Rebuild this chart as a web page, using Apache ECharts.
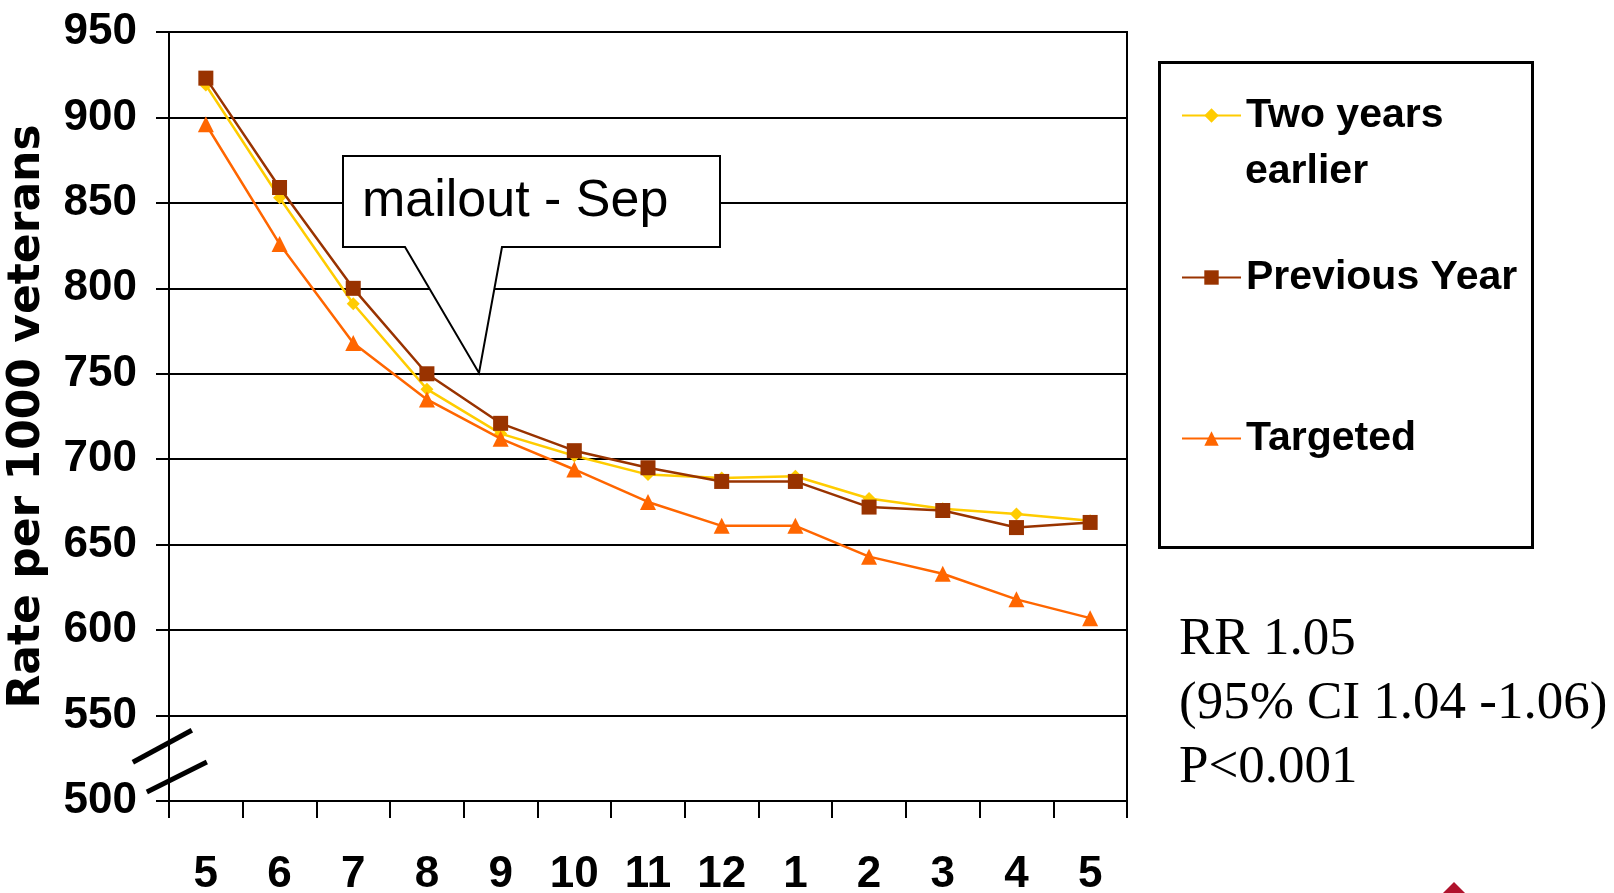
<!DOCTYPE html>
<html>
<head>
<meta charset="utf-8">
<script src="https://cdn.jsdelivr.net/npm/echarts@6/dist/echarts.min.js"></script>
<style>
html,body{margin:0;padding:0;background:#ffffff;}
#chart{width:1614px;height:893px;}
</style>
</head>
<body>
<div id="chart"></div>
<script>
// ---- data ----
const months = ['5', '6', '7', '8', '9', '10', '11', '12', '1', '2', '3', '4', '5'];
const twoYearsEarlier = [919, 853, 791, 741, 715, 702, 691, 689, 690, 677, 671, 668, 664];
const previousYear = [923, 859, 800, 750, 721, 705, 695, 687, 687, 672, 670, 660, 663];
const targeted = [896, 826, 768, 735, 712, 694, 675, 661, 661, 643, 633, 618, 607];
const seriesNames = ['Two years earlier', 'Previous Year', 'Targeted'];
const legendLabels = ['Two years', 'Previous Year', 'Targeted'];
const yAxisTitle = 'Rate per 1000 veterans';
const yMin = 500, yMax = 950, yStep = 50;
const calloutText = 'mailout - Sep';
const statsLines = ['RR 1.05', '(95% CI 1.04 -1.06)', 'P<0.001'];

// ---- style ----
const COL_YELLOW = '#FFCC00';
const COL_BROWN = '#993300';
const COL_ORANGE = '#FF6600';
const BOLD_FONT = "'Liberation Sans', Arial, sans-serif";
const LEGEND_FONT = "'Liberation Sans', Arial, sans-serif";
const LEGEND_SIZE = 41;

const chart = echarts.init(document.getElementById('chart'), null, {renderer: 'canvas'});

function legendFor(i, top) {
  return {
    data: [seriesNames[i]],
    orient: 'vertical',
    left: 1181,
    top: top,
    padding: 0,
    itemWidth: 59,
    itemHeight: 18,
    formatter: function () { return legendLabels[i]; },
    textStyle: {fontFamily: LEGEND_FONT, fontWeight: 'bold', fontSize: LEGEND_SIZE, color: '#000'},
    selectedMode: false
  };
}

const option = {
  animation: false,
  backgroundColor: '#ffffff',
  grid: {
    left: 169, right: 487, top: 32, bottom: 92,
    show: true, borderColor: '#000', borderWidth: 2, backgroundColor: 'transparent',
    containLabel: false, outerBoundsMode: 'none'
  },
  xAxis: {
    type: 'category',
    data: months,
    boundaryGap: true,
    axisLine: {show: true, lineStyle: {color: '#000', width: 2}},
    axisTick: {show: true, inside: false, length: 17, lineStyle: {color: '#000', width: 2}},
    axisLabel: {interval: 0, margin: 52, color: '#000', fontFamily: BOLD_FONT, fontWeight: 'bold', fontSize: 44},
    splitLine: {show: false}
  },
  yAxis: {
    type: 'value',
    min: yMin, max: yMax, interval: yStep,
    name: yAxisTitle,
    nameLocation: 'middle',
    nameRotate: 90,
    nameGap: 119,
    nameTextStyle: {fontFamily: "'DejaVu Sans', sans-serif", fontWeight: 'bold', fontSize: 44, color: '#000'},
    axisLine: {show: true, lineStyle: {color: '#000', width: 2}},
    axisTick: {show: true, inside: false, length: 13, lineStyle: {color: '#000', width: 2}},
    axisLabel: {margin: 32, color: '#000', fontFamily: BOLD_FONT, fontWeight: 'bold', fontSize: 44},
    splitLine: {show: true, lineStyle: {color: '#000', width: 2}}
  },
  legend: [legendFor(0, 95), legendFor(1, 257), legendFor(2, 418)],
  series: [
    {
      name: seriesNames[0], type: 'line', data: twoYearsEarlier,
      symbol: 'diamond', symbolSize: 13,
      itemStyle: {color: COL_YELLOW}, lineStyle: {color: COL_YELLOW, width: 2.5}, z: 3
    },
    {
      name: seriesNames[1], type: 'line', data: previousYear,
      symbol: 'rect', symbolSize: 15,
      itemStyle: {color: COL_BROWN}, lineStyle: {color: COL_BROWN, width: 2.5}, z: 4
    },
    {
      name: seriesNames[2], type: 'line', data: targeted,
      symbol: 'triangle', symbolSize: 16,
      itemStyle: {color: COL_ORANGE}, lineStyle: {color: COL_ORANGE, width: 2.5}, z: 5
    }
  ]
};
chart.setOption(option);

// ---- annotations (positioned from the axes) ----
const axisX = chart.convertToPixel({xAxisIndex: 0}, 0) - 37; // left edge of grid
const yBreakA = chart.convertToPixel({yAxisIndex: 0}, 532);
const yBreakB = chart.convertToPixel({yAxisIndex: 0}, 514);

const graphics = [
  // axis break marks
  {type: 'line', z: 50, shape: {x1: axisX - 36, y1: yBreakA + 16, x2: axisX + 23, y2: yBreakA - 16},
   style: {stroke: '#000', lineWidth: 5}},
  {type: 'line', z: 50, shape: {x1: axisX - 22, y1: yBreakB + 15, x2: axisX + 38, y2: yBreakB - 15},
   style: {stroke: '#000', lineWidth: 5}},
  // callout
  {type: 'polygon', z: 60,
   shape: {points: [[343, 156], [720, 156], [720, 247], [502, 247], [479, 373], [405, 247], [343, 247]]},
   style: {fill: '#ffffff', stroke: '#000', lineWidth: 2}},
  {type: 'text', z: 61, x: 362, y: 202,
   style: {text: calloutText, fontFamily: "'Liberation Sans', Arial, sans-serif", fontSize: 52,
           fill: '#000', align: 'left', verticalAlign: 'middle'}},
  // legend border
  {type: 'rect', z: 40, shape: {x: 1159.5, y: 62.5, width: 373, height: 485},
   style: {fill: 'transparent', stroke: '#000', lineWidth: 3}},
  // second line of first legend label
  {type: 'text', z: 41, x: 1245, y: 172,
   style: {text: 'earlier', fontFamily: LEGEND_FONT, fontWeight: 'bold', fontSize: LEGEND_SIZE,
           fill: '#000', align: 'left', verticalAlign: 'middle'}},
  // statistics
  {type: 'text', z: 41, x: 1179, y: 608,
   style: {text: statsLines.join('\n'), fontFamily: "'Liberation Serif', 'Times New Roman', serif",
           fontSize: 53, lineHeight: 64, fill: '#000', align: 'left', verticalAlign: 'top'}},
  // partial logo at bottom-right
  {type: 'polygon', z: 41, shape: {points: [[1454, 882], [1477, 905], [1454, 928], [1431, 905]]},
   style: {fill: '#B0122C'}}
];
chart.setOption({graphic: graphics});
</script>
</body>
</html>
